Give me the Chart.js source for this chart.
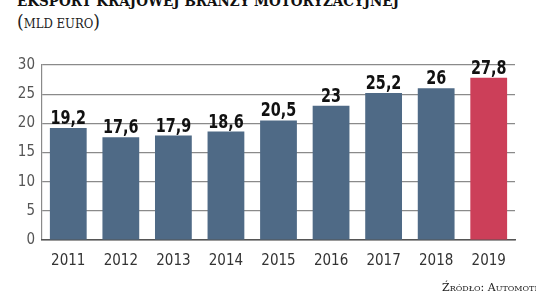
<!DOCTYPE html>
<html>
<head>
<meta charset="utf-8">
<script src="https://cdn.jsdelivr.net/npm/chart.js@4.4.1/dist/chart.umd.min.js"></script>
<style>
  html, body { margin: 0; padding: 0; background: #fff; }
  #wrap { position: relative; width: 536px; height: 293px; overflow: hidden; }
  #title { position: absolute; left: 17px; top: -8px; font: bold 15px "DejaVu Serif Condensed", "DejaVu Serif", serif; font-stretch: condensed; color: #111; white-space: nowrap; }
  #sub { position: absolute; left: 17px; top: 10px; font: 13px "DejaVu Serif Condensed", "DejaVu Serif", serif; font-stretch: condensed; color: #222; white-space: nowrap; }
  #sub span { font-size: 19px; font-weight: 300; }
  #src { position: absolute; left: 442px; top: 281px; font: 11px "DejaVu Serif", serif; color: #222; white-space: nowrap; font-variant: small-caps; }
  canvas { position: absolute; left: 0; top: 0; }
</style>
</head>
<body>
<div id="wrap">
  <div id="title">EKSPORT KRAJOWEJ BRANŻY MOTORYZACYJNEJ</div>
  <div id="sub"><span>(</span>MLD EURO<span>)</span></div>
  <canvas id="c" width="536" height="293"></canvas>
  <div id="src">Źródło: AutomotiveSuppliers.pl</div>
</div>
<script>
const years = ['2011', '2012', '2013', '2014', '2015', '2016', '2017', '2018', '2019'];
const exportValues = [19.2, 17.6, 17.9, 18.6, 20.5, 23, 25.2, 26, 27.8];
const valueLabels = ['19,2', '17,6', '17,9', '18,6', '20,5', '23', '25,2', '26', '27,8'];

const BLUE = '#4f6a86';
const RED = '#cc3f59';
const tickFont = '"DejaVu Sans Condensed", "Liberation Sans Narrow", sans-serif';

// numbers above the bars, squeezed a bit to look condensed
const valueLabelPlugin = {
  id: 'valueLabels',
  afterDatasetsDraw(chart) {
    const ctx = chart.ctx;
    const meta = chart.getDatasetMeta(0);
    ctx.save();
    ctx.font = 'bold 20px ' + tickFont;
    ctx.fillStyle = '#111';
    ctx.textAlign = 'center';
    ctx.textBaseline = 'alphabetic';
    meta.data.forEach((bar, i) => {
      ctx.save();
      ctx.translate(bar.x, bar.y - 4);
      ctx.scale(0.8, 1);
      ctx.fillText(valueLabels[i], 0, 0);
      ctx.restore();
    });
    ctx.restore();
  }
};

new Chart(document.getElementById('c'), {
  type: 'bar',
  data: {
    labels: years,
    datasets: [{
      data: exportValues,
      backgroundColor: exportValues.map((v, i) => i === exportValues.length - 1 ? RED : BLUE),
      barPercentage: 0.7,
      categoryPercentage: 1.0
    }]
  },
  options: {
    responsive: false,
    animation: false,
    layout: { padding: { left: 0, right: 21, top: 65, bottom: 11 } },
    plugins: { legend: { display: false }, tooltip: { enabled: false } },
    scales: {
      y: {
        min: 0, max: 30,
        ticks: { stepSize: 5, color: '#555', font: { family: tickFont, size: 15 }, padding: 7 },
        grid: { color: '#8a8a8a', lineWidth: 1.2, drawTicks: false },
        border: { display: true, color: '#8a8a8a', width: 1.2 },
        afterFit(scale) { scale.width = 42; }
      },
      x: {
        ticks: { color: '#333', font: { family: tickFont, size: 15 }, padding: 12 },
        grid: { display: false, drawTicks: false },
        border: { display: true, color: '#555', width: 1.5 }
      }
    }
  },
  plugins: [valueLabelPlugin]
});
</script>
</body>
</html>
